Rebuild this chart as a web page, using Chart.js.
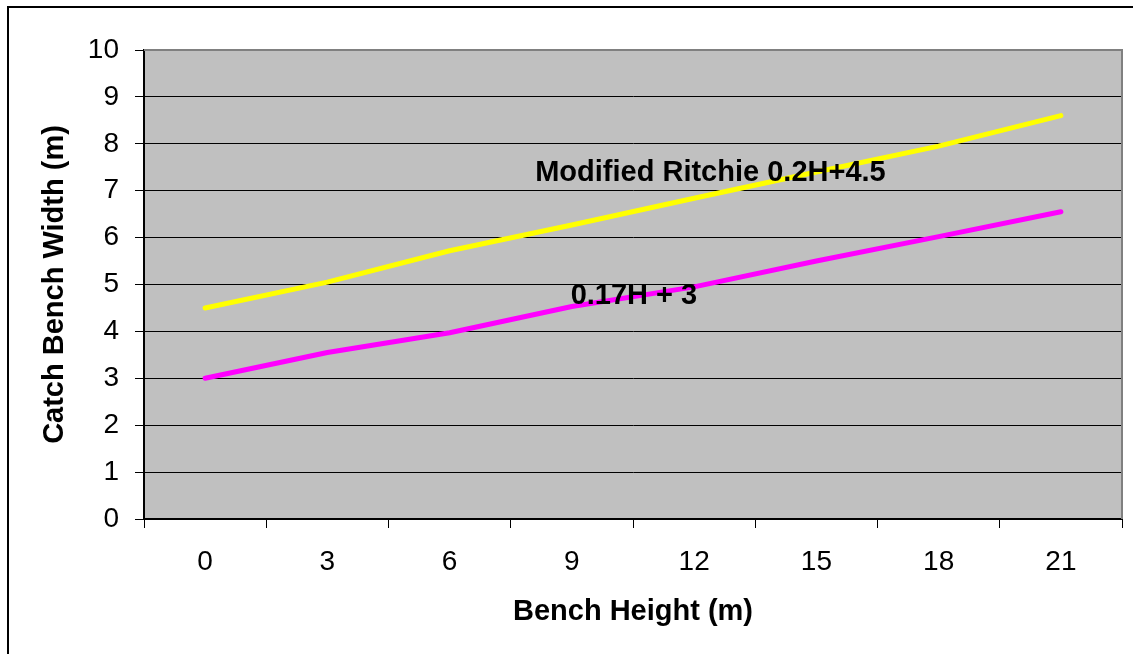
<!DOCTYPE html>
<html>
<head>
<meta charset="utf-8">
<script src="https://cdn.jsdelivr.net/npm/chart.js@4.4.1/dist/chart.umd.min.js"></script>
<style>
  html, body { margin: 0; padding: 0; background: #ffffff; }
  #wrap { width: 1133px; height: 654px; position: relative; }
</style>
</head>
<body>
<div id="wrap"><canvas id="c" width="1133" height="654"></canvas></div>
<script>
const benchHeights = ['0', '3', '6', '9', '12', '15', '18', '21'];
const ritchieValues = [4.5, 5.05, 5.72, 6.27, 6.84, 7.4, 7.95, 8.6];
const linearValues = [3.0, 3.55, 3.97, 4.53, 4.95, 5.5, 6.02, 6.55];
const seriesNames = ['Modified Ritchie 0.2H+4.5', '0.17H + 3'];
const xAxisTitle = 'Bench Height (m)';
const yAxisTitle = 'Catch Bench Width (m)';

const FONT = '"Liberation Sans", Arial, Helvetica, sans-serif';

// label anchors (category index, value) – layout only
const labelAnchors = [
  { x: 2.70, y: 7.38 },
  { x: 2.99, y: 4.75 }
];

const decor = {
  id: 'decor',
  beforeDraw(chart) {
    const { ctx, chartArea: a } = chart;
    ctx.save();
    ctx.fillStyle = '#ffffff';
    ctx.fillRect(0, 0, chart.width, chart.height);
    ctx.fillStyle = '#C0C0C0';
    ctx.fillRect(a.left, a.top, a.right - a.left, a.bottom - a.top);
    ctx.strokeStyle = '#000000';
    ctx.lineWidth = 2;
    ctx.beginPath();
    ctx.moveTo(8, chart.height + 5);
    ctx.lineTo(8, 7);
    ctx.lineTo(chart.width + 5, 7);
    ctx.stroke();
    ctx.restore();
  },
  beforeDatasetsDraw(chart) {
    const { ctx, chartArea: a } = chart;
    ctx.save();
    ctx.strokeStyle = '#808080';
    ctx.lineWidth = 2;
    ctx.beginPath();
    ctx.moveTo(a.left, a.top);
    ctx.lineTo(a.right, a.top);
    ctx.lineTo(a.right, a.bottom);
    ctx.stroke();
    ctx.restore();
  },
  afterDatasetsDraw(chart) {
    const { ctx } = chart;
    const xs = chart.scales.x, ys = chart.scales.y;
    ctx.save();
    ctx.fillStyle = '#000000';
    ctx.font = 'bold 29px ' + FONT;
    ctx.textAlign = 'left';
    ctx.textBaseline = 'middle';
    seriesNames.forEach((name, i) => {
      const p = labelAnchors[i];
      ctx.fillText(name, xs.getPixelForValue(p.x), ys.getPixelForValue(p.y));
    });
    ctx.restore();
  }
};

new Chart(document.getElementById('c'), {
  type: 'line',
  data: {
    labels: benchHeights,
    datasets: [
      {
        label: seriesNames[0],
        data: ritchieValues,
        borderColor: '#FFFF00',
        backgroundColor: '#FFFF00',
        borderWidth: 5,
        borderCapStyle: 'round',
        borderJoinStyle: 'round',
        pointRadius: 0,
        tension: 0
      },
      {
        label: seriesNames[1],
        data: linearValues,
        borderColor: '#FF00FF',
        backgroundColor: '#FF00FF',
        borderWidth: 5,
        borderCapStyle: 'round',
        borderJoinStyle: 'round',
        pointRadius: 0,
        tension: 0
      }
    ]
  },
  options: {
    responsive: false,
    animation: false,
    devicePixelRatio: 1,
    layout: { padding: { top: 50, right: 11, left: 0, bottom: 0 } },
    plugins: { legend: { display: false }, tooltip: { enabled: false }, title: { display: false } },
    scales: {
      x: {
        type: 'category',
        offset: true,
        grid: { offset: true, drawOnChartArea: false, drawTicks: true, tickLength: 9, color: '#000000', lineWidth: 1 },
        border: { display: true, color: '#000000', width: 2 },
        ticks: { color: '#000000', font: { family: FONT, size: 28 }, padding: 17, maxRotation: 0, autoSkip: false },
        title: { display: true, text: xAxisTitle, color: '#000000', font: { family: FONT, size: 29, weight: 'bold' }, padding: { top: 0, bottom: 25 } },
        afterFit(scale) { scale.height = 135; }
      },
      y: {
        min: 0,
        max: 10,
        grid: { color: '#000000', lineWidth: 1, drawTicks: true, tickLength: 9 },
        border: { display: true, color: '#000000', width: 2 },
        ticks: { stepSize: 1, color: '#000000', font: { family: FONT, size: 28 }, padding: 16 },
        title: { display: true, text: yAxisTitle, color: '#000000', font: { family: FONT, size: 29, weight: 'bold' }, padding: { top: 38, bottom: 0 } },
        afterFit(scale) { scale.width = 144; }
      }
    }
  },
  plugins: [decor]
});
</script>
</body>
</html>
